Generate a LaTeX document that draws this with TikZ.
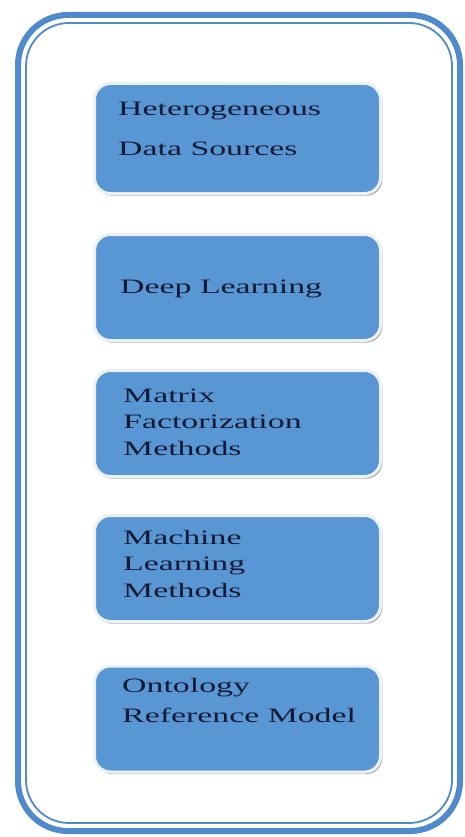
\documentclass[tikz,border=0pt]{standalone}
\usepackage{fontspec}
\setmainfont{Liberation Serif}[FakeStretch=1.65]
\usetikzlibrary{shadows,positioning}
\definecolor{boxblue}{RGB}{88,150,212}
\definecolor{rimblue}{RGB}{78,138,204}
\definecolor{rimwhite}{RGB}{236,241,247}
\definecolor{inkblue}{RGB}{20,26,52}

\begin{document}
\begin{tikzpicture}[x=1pt,y=-1pt,
  item box/.style={rectangle,rounded corners=16pt,fill=boxblue,draw=rimwhite,line width=3pt,
    minimum width=286pt,minimum height=106pt,
    drop shadow={shadow xshift=1.8pt,shadow yshift=-2.2pt,fill=black!45,opacity=.7}},
  item text/.style={anchor=base west,align=left,inner sep=0pt,text=inkblue,
    font=\fontsize{20.5}{26.5}\selectfont}]
\useasboundingbox[fill=white] (0,0) rectangle (465,837);

% outer frame
  \draw[rimblue,line width=6pt,rounded corners=50pt] (18,15) rectangle (460,831);
  \draw[rimblue,line width=1.8pt,rounded corners=43pt] (26,23) rectangle (452,823);

% boxes
  \node[item box] (hds) at (237.5,138.5) [minimum height=110pt] {};
  \node[item box] (dl) at (237.5,287.5) {};
  \node[item box] (mfm) at (237.5,423.5) {};
  \node[item box] (mlm) at (237.5,568.5) {};
  \node[item box] (orm) at (237.5,719) {};

% texts (anchored at the last line)
  \node[item text] (hdsText) at (118,156) {Heterogeneous\\[14pt]Data Sources};
  \node[item text] (dlText) at (120,293) {Deep Learning};
  \node[item text] (mfmText) at (123,455) {Matrix\\Factorization\\Methods};
  \node[item text] (mlmText) at (123,597) {Machine\\Learning\\Methods};
  \node[item text] (ormText) at (122,722) {Ontology\\[3pt]Reference Model};

\end{tikzpicture}
\end{document}
